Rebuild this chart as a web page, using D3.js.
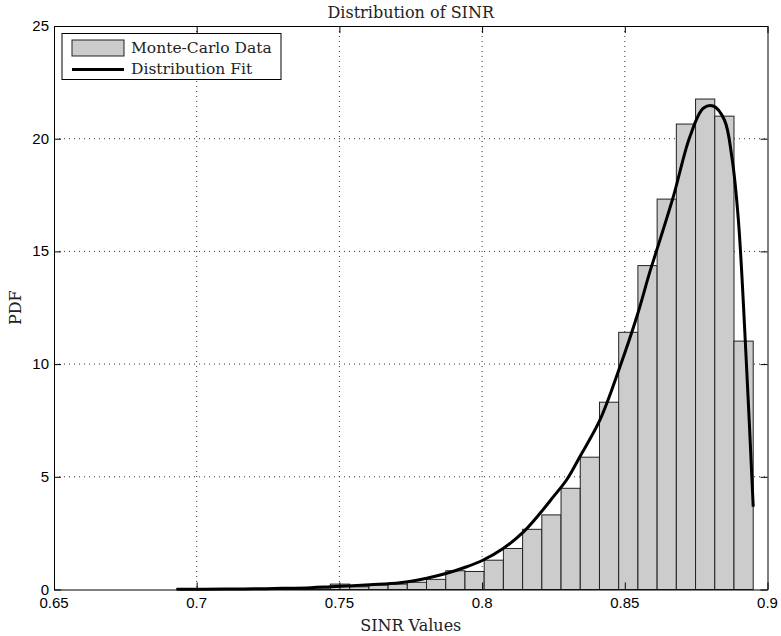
<!DOCTYPE html>
<html lang="en">
<head>
   <title>Distribution of SINR</title>
   <style type="text/css">
       body{
           margin: 0;
           background: white;
       }
       .tick-label{
           font-family: "Liberation Sans", Arial, sans-serif;
           font-size: 15px;
           fill: black;
       }
       .serif{
           font-family: "DejaVu Serif", serif;
           font-size: 16px;
           fill: #222;
       }
       .lab{
           font-size: 15.5px;
       }
       .grid{
           stroke: #333;
           stroke-width: 1px;
           stroke-dasharray: 1,4;
       }
       .bar{
           fill: #cccccc;
           stroke: #222;
           stroke-width: 1px;
       }
       .fit{
           fill: none;
           stroke: black;
           stroke-width: 3px;
       }
   </style>
</head>
<body>
<script src="https://d3js.org/d3.v7.min.js" charset="utf-8"></script>
<script>
    // histogram: 30 equal bins starting at binStart
    var binStart = 0.693
    var binWidth = 0.006733
    var binHeights = [0.04,0.03,0.03,0.04,0.04,0.05,0.06,0.07,0.24,0.12,
                      0.2,0.24,0.32,0.45,0.83,0.8,1.3,1.82,2.67,3.31,
                      4.49,5.87,8.31,11.41,14.37,17.32,20.65,21.76,21.0,11.02]

    // fitted curve
    var fitX = [0.693,0.71,0.72,0.73,0.74,0.7467,0.7607,0.7712,0.7806,0.7876,
                0.7946,0.8004,0.8075,0.8145,0.8203,0.825,0.8297,0.8343,0.8413,0.8483,
                0.8542,0.8588,0.8612,0.867,0.8728,0.8775,0.881,0.8849,0.8875,
                0.8898,0.8927,0.895]
    var fitY = [0.01,0.02,0.03,0.05,0.08,0.12,0.21,0.30,0.50,0.72,
                1.01,1.31,1.83,2.56,3.38,4.12,4.88,5.9,7.52,9.88,
                12.1,14.1,15.06,17.43,20.09,21.35,21.45,20.83,19.2,
                16.39,9.8,3.67]

    var xTicks = [0.65,0.7,0.75,0.8,0.85,0.9]
    var yTicks = [0,5,10,15,20,25]
    var legendLabels = ['Monte-Carlo Data','Distribution Fit']

    var width = 781, height = 636
    var plotL = 54, plotR = 767.5, plotT = 26, plotB = 589.5

    var svg = d3.select('body')
        .append('svg')
            .attr('width', width)
            .attr('height', height)

    var x = d3.scaleLinear().domain([0.65, 0.9]).range([plotL, plotR])
    var y = d3.scaleLinear().domain([0, 25]).range([plotB, plotT])

    // grid
    var grid = svg.append('g').attr('class','grid')
    grid.selectAll('line.gx')
        .data(xTicks.slice(1, -1))
        .enter().append('line')
            .attr('class','gx')
            .attr('x1', function(d) {return x(d);})
            .attr('x2', function(d) {return x(d);})
            .attr('y1', plotT)
            .attr('y2', plotB)
    grid.selectAll('line.gy')
        .data(yTicks.slice(1, -1))
        .enter().append('line')
            .attr('class','gy')
            .attr('x1', plotL)
            .attr('x2', plotR)
            .attr('y1', function(d) {return y(d);})
            .attr('y2', function(d) {return y(d);})

    // bars
    svg.append('g').selectAll('rect')
        .data(binHeights)
        .enter().append('rect')
            .attr('class','bar')
            .attr('x', function(d,i) {return x(binStart + i*binWidth);})
            .attr('width', function(d,i) {return x(binStart + (i+1)*binWidth) - x(binStart + i*binWidth);})
            .attr('y', function(d) {return y(d);})
            .attr('height', function(d) {return y(0) - y(d);})

    // fit line
    var line = d3.line()
        .x(function(d) {return x(d[0]);})
        .y(function(d) {return y(d[1]);})
        .curve(d3.curveCatmullRom.alpha(0.5))
    svg.append('path')
        .attr('class','fit')
        .attr('d', line(d3.zip(fitX, fitY)))

    // axes box with inward ticks
    var tl = 7
    var axes = svg.append('g')
    axes.append('g')
        .attr('transform','translate(0,' + plotB + ')')
        .call(d3.axisBottom(x).tickValues(xTicks).tickSize(-tl).tickSizeOuter(0).tickFormat(''))
    axes.append('g')
        .attr('transform','translate(0,' + plotT + ')')
        .call(d3.axisTop(x).tickValues(xTicks).tickSize(-tl).tickSizeOuter(0).tickFormat(''))
    axes.append('g')
        .attr('transform','translate(' + plotL + ',0)')
        .call(d3.axisLeft(y).tickValues(yTicks).tickSize(-tl).tickSizeOuter(0).tickFormat(''))
    axes.append('g')
        .attr('transform','translate(' + plotR + ',0)')
        .call(d3.axisRight(y).tickValues(yTicks).tickSize(-tl).tickSizeOuter(0).tickFormat(''))
    axes.selectAll('.domain').attr('stroke','black').attr('stroke-width',1)
    axes.selectAll('.tick line').attr('stroke','black')

    // tick labels
    svg.append('g').selectAll('text')
        .data(xTicks)
        .enter().append('text')
            .attr('class','tick-label')
            .attr('text-anchor','middle')
            .attr('x', function(d) {return x(d);})
            .attr('y', plotB + 18)
            .text(function(d) {return d;})
    svg.append('g').selectAll('text')
        .data(yTicks)
        .enter().append('text')
            .attr('class','tick-label')
            .attr('text-anchor','end')
            .attr('x', plotL - 5)
            .attr('y', function(d) {return y(d) + 5;})
            .text(function(d) {return d;})

    // titles
    svg.append('text')
        .attr('class','serif')
        .attr('text-anchor','middle')
        .attr('x', (plotL + plotR)/2)
        .attr('y', 18)
        .text('Distribution of SINR')
    svg.append('text')
        .attr('class','serif')
        .attr('text-anchor','middle')
        .attr('x', (plotL + plotR)/2)
        .attr('y', 631)
        .text('SINR Values')
    svg.append('text')
        .attr('class','serif')
        .attr('text-anchor','middle')
        .attr('transform','translate(21,' + (plotT + plotB)/2 + ') rotate(-90)')
        .text('PDF')

    // legend
    var legend = svg.append('g').attr('transform','translate(62,33.5)')
    legend.append('rect')
        .attr('width', 219)
        .attr('height', 46)
        .attr('fill','white')
        .attr('stroke','black')
    legend.append('rect')
        .attr('class','bar')
        .attr('x', 10)
        .attr('y', 6.5)
        .attr('width', 52)
        .attr('height', 16)
    legend.append('line')
        .attr('x1', 10)
        .attr('x2', 62)
        .attr('y1', 36)
        .attr('y2', 36)
        .attr('stroke','black')
        .attr('stroke-width', 3)
    legend.selectAll('text.lab')
        .data(legendLabels)
        .enter().append('text')
            .attr('class','serif lab')
            .attr('x', 69)
            .attr('y', function(d,i) {return 19 + i*21;})
            .text(function(d) {return d;})
</script>
</body>
</html>
